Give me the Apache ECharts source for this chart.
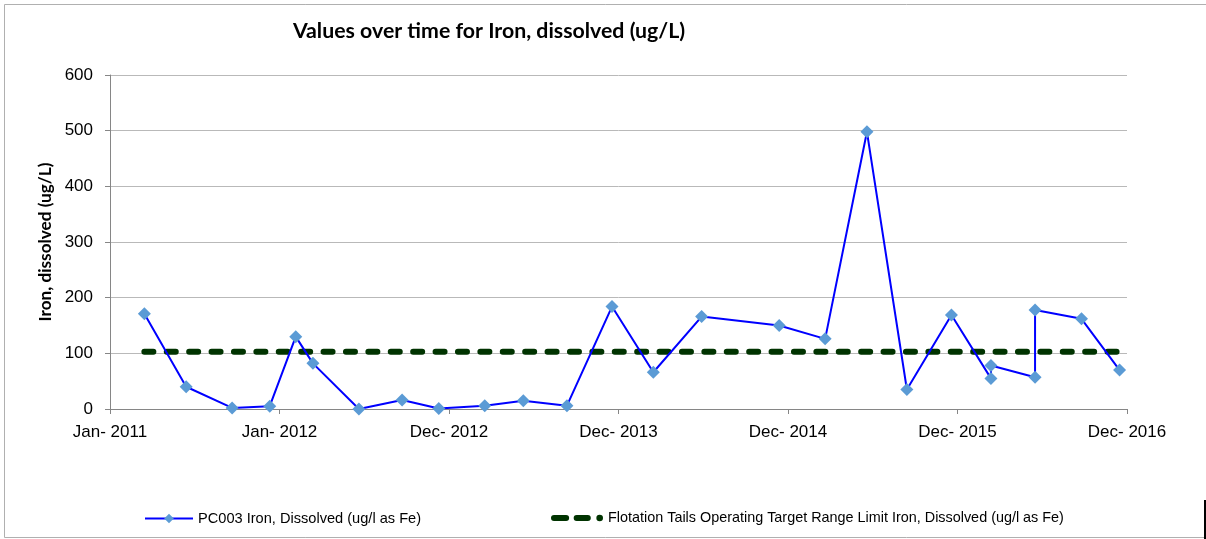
<!DOCTYPE html>
<html>
<head>
<meta charset="utf-8">
<script src="https://cdn.jsdelivr.net/npm/echarts@6/dist/echarts.min.js"></script>
<style>
html,body{margin:0;padding:0;background:#fff;}
#chart{width:1206px;height:539px;}
</style>
</head>
<body>
<div id="chart"></div>
<script>
// ---- data ----
const sampleDates = ["2011-03-16","2011-06-14","2011-09-21","2011-12-11","2012-02-05","2012-03-13",
  "2012-06-20","2012-09-21","2012-12-09","2013-03-18","2013-06-09","2013-09-11","2013-12-17",
  "2014-03-16","2014-06-28","2014-12-12","2015-03-21","2015-06-19","2015-09-13","2015-12-18",
  "2016-03-12","2016-03-12","2016-06-15","2016-06-15","2016-09-23","2016-12-14"];
const ironValues = [171,40,2,5,130,82,0,16,1,6,15,6,184,66,166,150,126,498,35,169,55,78,57,178,162,70];
const limitDates = ["2011-03-16","2016-12-14"];
const limitValues = [103,103];
const axisStartDate = "2011-01-01";
const axisDays = [0,365,730,1095,1460,1825,2190];
const yTicks = [0,100,200,300,400,500,600];
const seriesNames = ["PC003 Iron, Dissolved (ug/l as Fe)",
  "Flotation Tails Operating Target Range Limit Iron, Dissolved (ug/l as Fe)"];
const titleText = "Values over time for Iron, dissolved (ug/L)";
const yAxisTitle = "Iron, dissolved (ug/L)";
const monthNames = ["Jan","Feb","Mar","Apr","May","Jun","Jul","Aug","Sep","Oct","Nov","Dec"];

function dayOffset(s){
  const p = s.split('-').map(Number), b = axisStartDate.split('-').map(Number);
  return Math.round((Date.UTC(p[0],p[1]-1,p[2]) - Date.UTC(b[0],b[1]-1,b[2]))/86400000);
}
function dayLabel(v){
  const b = axisStartDate.split('-').map(Number);
  const d = new Date(Date.UTC(b[0],b[1]-1,b[2]) + v*86400000);
  return monthNames[d.getUTCMonth()] + '- ' + d.getUTCFullYear();
}

const ironData = sampleDates.map((d,i)=>[dayOffset(d), ironValues[i]]);
const limitData = limitDates.map((d,i)=>[dayOffset(d), limitValues[i]]);

const chart = echarts.init(document.getElementById('chart'), null, {renderer:'canvas'});
const FONT = 'Liberation Sans, Arial, sans-serif';
const TFONT = 'Lato, Liberation Sans, sans-serif';
const dashIcon = 'path://M3,1 L15,1 A3,3 0 0 1 15,7 L3,7 A3,3 0 0 1 3,1 Z M25.5,1 L36.5,1 A3,3 0 0 1 36.5,7 L25.5,7 A3,3 0 0 1 25.5,1 Z M48.3,0.7 A3.3,3.3 0 1 1 48.3,7.3 A3.3,3.3 0 1 1 48.3,0.7 Z';
chart.setOption({
  animation:false,
  backgroundColor:'#ffffff',
  title:{
    text:titleText, left:484, top:16, textAlign:'center',
    textStyle:{fontFamily:TFONT, fontSize:21.3, fontWeight:'bold', color:'#000'}
  },
  grid:{left:110, right:79, top:75, bottom:130, containLabel:false},
  xAxis:{
    type:'value', min:axisDays[0], max:axisDays[axisDays.length-1], interval:365,
    axisLine:{show:true, onZero:false, lineStyle:{color:'#868686', width:1}},
    axisTick:{show:true, length:5, lineStyle:{color:'#868686'}},
    splitLine:{show:false},
    axisLabel:{fontFamily:FONT, fontSize:17, color:'#000', margin:15,
      formatter:function(v){ return dayLabel(v); }}
  },
  yAxis:{
    type:'value', min:yTicks[0], max:yTicks[yTicks.length-1], interval:100,
    name:yAxisTitle, nameLocation:'middle', nameGap:44, nameRotate:90,
    nameTextStyle:{fontFamily:TFONT, fontSize:17.2, fontWeight:'bold', color:'#000'},
    axisLine:{show:true, lineStyle:{color:'#868686', width:1}},
    axisTick:{show:true, length:5, lineStyle:{color:'#868686'}},
    splitLine:{show:true, lineStyle:{color:'#b9b9b9', width:1}},
    axisLabel:{fontFamily:FONT, fontSize:17, color:'#000', margin:17}
  },
  legend:[
    {data:[seriesNames[0]], left:144, top:511, padding:0, itemWidth:48, itemHeight:12, itemGap:5,
     textStyle:{fontFamily:FONT, fontSize:14.6, color:'#000'}},
    {data:[{name:seriesNames[1], icon:dashIcon}], left:551, top:511, padding:0, itemWidth:52, itemHeight:8, itemGap:5,
     textStyle:{fontFamily:FONT, fontSize:14.4, color:'#000'}}
  ],
  series:[
    {
      name:seriesNames[1], type:'line', data:limitData, symbol:'none', z:2,
      lineStyle:{color:'#003300', width:6, type:[9,13.4], cap:'round'},
      itemStyle:{color:'#003300'}
    },
    {
      name:seriesNames[0], type:'line', data:ironData, symbol:'diamond', symbolSize:13, z:3,
      lineStyle:{color:'#0000ff', width:2},
      itemStyle:{color:'#5b9bd5', borderWidth:0}
    }
  ],
  graphic:[
    {type:'rect', shape:{x:4.5, y:4.5, width:1220, height:533}, silent:true,
     style:{fill:'none', stroke:'#b0b0b0', lineWidth:1}},
    {type:'line', shape:{x1:1205, y1:500, x2:1205, y2:539}, silent:true,
     style:{stroke:'#000', lineWidth:2}}
  ]
});
</script>
</body>
</html>
